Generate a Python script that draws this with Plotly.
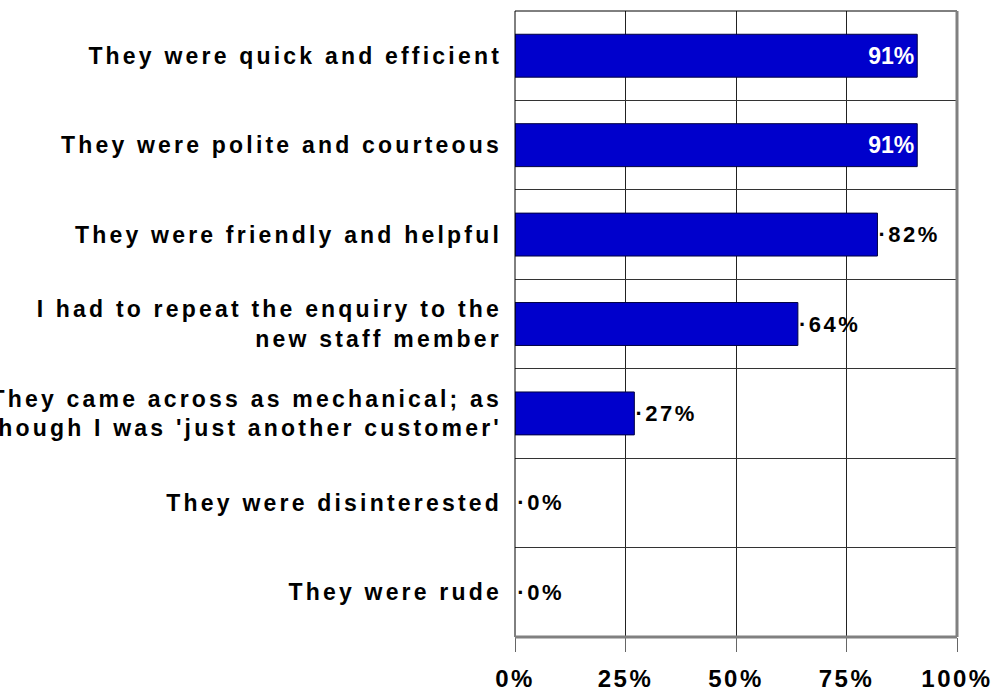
import plotly.graph_objects as go

# Survey responses: how the staff member came across
categories = [
    "They were quick and efficient",
    "They were polite and courteous",
    "They were friendly and helpful",
    "I had to repeat the enquiry to the<br>new staff member",
    "They came across as mechanical; as<br>though I was 'just another customer'",
    "They were disinterested",
    "They were rude",
]
values = [0.91, 0.91, 0.82, 0.64, 0.27, 0.0, 0.0]
x_ticks = [0, 0.25, 0.5, 0.75, 1.0]
x_tick_labels = ["0%", "25%", "50%", "75%", "100%"]

FONT = "Liberation Sans, Arial, sans-serif"
BAR_BLUE = "#0000CC"

# Long bars carry their label inside in white; the rest sit outside in black
inside = [v >= 0.9 for v in values]
texts = [f"{v:.0%}" if ins else f"\u200a\u00b7{v:.0%}" for v, ins in zip(values, inside)]
positions = ["inside" if ins else "outside" for ins in inside]
text_colors = ["white" if ins else "black" for ins in inside]
text_sizes = [23 if ins else 22 for ins in inside]
outline_widths = [1 if v > 0 else 0 for v in values]

fig = go.Figure(
    go.Bar(
        x=values,
        y=categories,
        orientation="h",
        width=0.48,
        marker=dict(color=BAR_BLUE, line=dict(color="#000040", width=outline_widths)),
        text=texts,
        textposition=positions,
        insidetextanchor="end",
        textfont=dict(family=FONT, size=text_sizes, color=text_colors, weight="bold"),
        cliponaxis=False,
        hoverinfo="skip",
    )
)

# Plot frame: dark top/left edges, heavier grey right edge and base line
frame = [
    dict(x0=0, x1=1, y0=1, y1=1, color="black", width=1),
    dict(x0=0, x1=0, y0=0, y1=1, color="black", width=1),
    dict(x0=1, x1=1, y0=0, y1=1, color="#808080", width=3),
    dict(x0=0, x1=1, y0=0, y1=0, color="#808080", width=3),
]
for f in frame:
    fig.add_shape(
        type="line", xref="paper", yref="paper",
        x0=f["x0"], x1=f["x1"], y0=f["y0"], y1=f["y1"],
        line=dict(color=f["color"], width=f["width"]), layer="above",
    )

fig.update_layout(
    width=998,
    height=692,
    margin=dict(l=515, r=41, t=11, b=55),
    paper_bgcolor="white",
    plot_bgcolor="white",
    showlegend=False,
    font=dict(family=FONT, color="black"),
    xaxis=dict(
        range=[0, 1],
        tickvals=x_ticks,
        ticktext=x_tick_labels,
        ticks="outside",
        ticklen=14,
        tickcolor="#666666",
        tickwidth=1,
        ticklabelstandoff=6,
        tickfont=dict(size=24, family=FONT, color="black", weight="bold"),
        showgrid=True,
        gridcolor="#222222",
        gridwidth=1,
        zeroline=False,
        showline=True,
        linecolor="black",
        linewidth=1,
        automargin=False,
        fixedrange=True,
    ),
    yaxis=dict(
        autorange="reversed",
        tickson="boundaries",
        ticks="",
        ticklabelstandoff=12,
        tickfont=dict(size=23, family=FONT, color="black", weight="bold"),
        showgrid=True,
        gridcolor="#333333",
        gridwidth=1,
        showline=False,
        automargin=False,
        fixedrange=True,
    ),
)

# Widen the letter spacing of the axis labels and the outside value labels
spacing_js = """
var gd = document.getElementById('{plot_id}');
function spaceOut() {
  gd.querySelectorAll('.ytick text').forEach(function (t) { t.style.letterSpacing = '3.2px'; });
  gd.querySelectorAll('.xtick text').forEach(function (t) { t.style.letterSpacing = '2.5px'; });
  gd.querySelectorAll('.bartext').forEach(function (t) {
    var s = t.getAttribute('style') || '';
    if (s.indexOf('255, 255, 255') < 0) { t.style.letterSpacing = '2.5px'; }
  });
}
spaceOut();
gd.on('plotly_afterplot', spaceOut);
"""

fig.write_html("out.html", post_script=spacing_js)
